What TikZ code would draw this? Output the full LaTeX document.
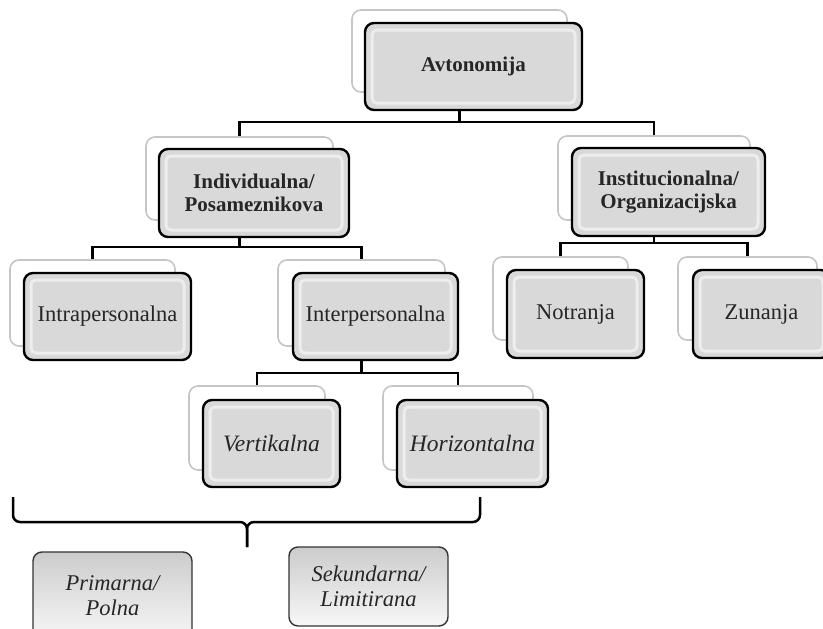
\documentclass[tikz,border=0pt]{standalone}
\usepackage{fontspec}
\setmainfont{Liberation Serif}

\begin{document}
\begin{tikzpicture}[x=1pt,y=-1pt,font=\fontsize{21}{23}\selectfont,
        back/.style={draw=gray!45,line width=1.6pt,rounded corners=9pt,fill=white,inner sep=0pt},
        front/.style={draw=black,line width=2.4pt,rounded corners=9pt,fill=gray!30,align=center,inner sep=0pt,text=black!85,
            path picture={\draw[white,line width=3pt,opacity=.55,rounded corners=5pt]
                ([shift={(7pt,7pt)}]path picture bounding box.south west) rectangle ([shift={(-7pt,-7pt)}]path picture bounding box.north east);}},
        plain/.style={font=\fontsize{22.5}{25}\selectfont},
        slant/.style={font=\fontsize{23.5}{25}\selectfont\itshape},
        leaf/.style={draw=black!80,line width=1.4pt,rounded corners=9pt,top color=gray!40,bottom color=gray!6,align=center,inner sep=0pt,
            text=black!85,font=\fontsize{22.5}{25}\selectfont\itshape},
        conn/.style={line width=2.8pt,black}]
        \useasboundingbox (0,0) rectangle (823,629);
        \clip (0,0) rectangle (823,629);

        \node[back,minimum width=215,minimum height=82] (avtb) at (459.5,51) {};
        \node[back,minimum width=187,minimum height=83] (indb) at (239.5,178.5) {};
        \node[back,minimum width=192,minimum height=84] (insb) at (654,178) {};
        \node[back,minimum width=165,minimum height=86] (intrab) at (92.5,303) {};
        \node[back,minimum width=167,minimum height=86] (interb) at (361.5,303) {};
        \node[back,minimum width=135,minimum height=83] (notrb) at (560.5,298.5) {};
        \node[back,minimum width=139,minimum height=83] (zunb) at (747.5,298.5) {};
        \node[back,minimum width=136,minimum height=84] (vertb) at (257,428) {};
        \node[back,minimum width=150,minimum height=84] (horb) at (458,428) {};

        \coordinate (jtop) at (459.5,122);
        \coordinate (jind) at (239.5,247);
        \coordinate (jins) at (654,243);
        \coordinate (jinter) at (361.5,373);
        \draw[conn] (avtb.south) -- (jtop);
        \draw[conn] (indb.north) |- (jtop) -| (insb.north);
        \draw[conn] (indb.south) -- (jind);
        \draw[conn] (intrab.north) |- (jind) -| (interb.north);
        \draw[conn] (insb.south) -- (jins);
        \draw[conn] (notrb.north) |- (jins) -| (zunb.north);
        \draw[conn] (interb.south) -- (jinter);
        \draw[conn] (vertb.north) |- (jinter) -| (horb.north);

        \node[front,minimum width=217,minimum height=87] (avt) at (473.5,66.5) {\textbf{Avtonomija}};
        \node[front,minimum width=190,minimum height=88] (ind) at (254,193) {\textbf{Individualna/}\\\textbf{Posameznikova}};
        \node[front,minimum width=193,minimum height=88] (ins) at (668.5,192) {\textbf{Institucionalna/}\\\textbf{Organizacijska}};
        \node[front,plain,minimum width=167,minimum height=87] (intra) at (107.5,316.5) {Intrapersonalna};
        \node[front,plain,minimum width=165,minimum height=87] (inter) at (375.5,316.5) {Interpersonalna};
        \node[front,plain,minimum width=137,minimum height=88] (notr) at (575.5,314) {Notranja};
        \node[front,plain,minimum width=137,minimum height=88] (zun) at (761.5,314) {Zunanja};
        \node[front,slant,minimum width=137,minimum height=87] (vert) at (271.5,443.5) {Vertikalna};
        \node[front,slant,minimum width=151,minimum height=87] (hor) at (472.5,443.5) {Horizontalna};

        \coordinate (bl) at (13,497);
        \coordinate (br) at (480,497);
        \coordinate (btip) at (247,547);
        \draw[conn,line width=2.5pt,rounded corners=7pt] (bl) -- (bl |- 0,522) -- (btip |- 0,522) -- (btip);
        \draw[conn,line width=2.5pt,rounded corners=7pt] (br) -- (br |- 0,522) -- (btip |- 0,522) -- (btip);

        \node[leaf,minimum width=159,minimum height=88] (prim) at (112.5,596) {Primarna/\\Polna};
        \node[leaf,minimum width=159,minimum height=79] (sek) at (368.5,586.5) {Sekundarna/\\Limitirana};
\end{tikzpicture}
\end{document}
